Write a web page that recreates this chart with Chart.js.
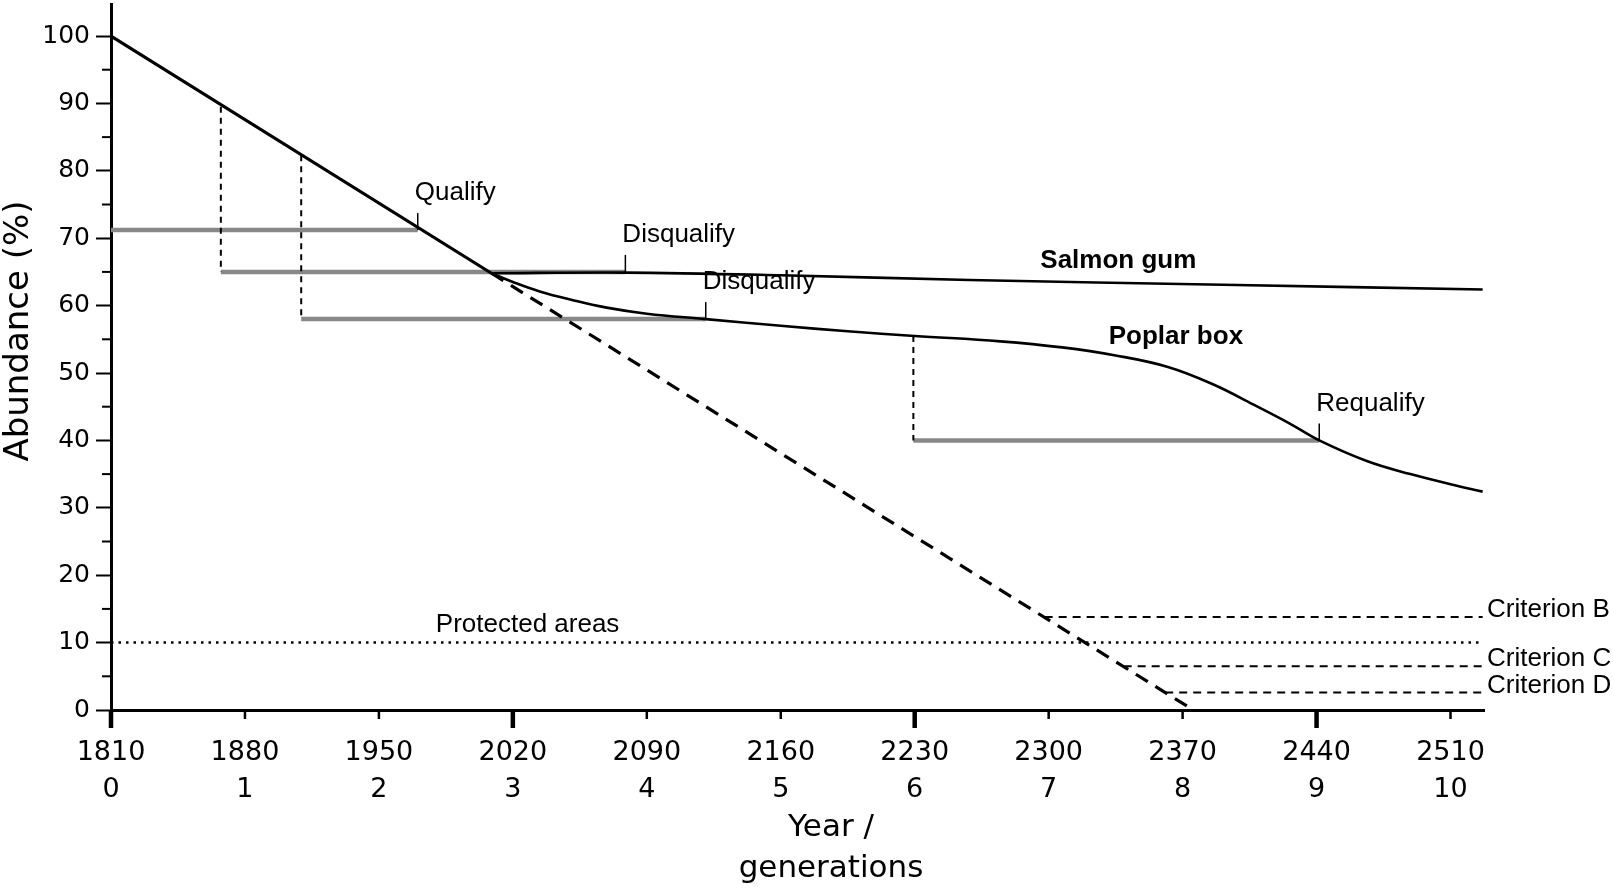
<!DOCTYPE html>
<html><head><meta charset="utf-8">
<script src="https://cdn.jsdelivr.net/npm/chart.js@4.4.0/dist/chart.umd.min.js"></script>
<style>html,body{margin:0;padding:0;background:#fff;}canvas{display:block;}</style>
</head><body>
<canvas id="c" width="1613" height="890"></canvas>
<script>
// ---- axis ticks ----
const generations = [0, 1, 2, 3, 4, 5, 6, 7, 8, 9, 10];
const years = ['1810', '1880', '1950', '2020', '2090', '2160', '2230', '2300', '2370', '2440', '2510'];
const majorGenerations = [0, 3, 6, 9];
const abundanceTicks = [0, 10, 20, 30, 40, 50, 60, 70, 80, 90, 100];
const minorAbundanceTicks = [5, 15, 25, 35, 45, 55, 65, 75, 85, 95];

// ---- series (x in generations, y in abundance %) ----
const declineX = [0, 2.84, 8.08];
const declineY = [100, 64.8, 0];
const salmonX = [2.84, 3.84, 5.0, 6.41, 8.3, 10.24];
const salmonY = [64.8, 64.9, 64.5, 63.8, 63.1, 62.4];
const poplarX = [2.84, 3.0, 3.2, 3.45, 3.7, 4.0, 4.44, 5.0, 5.5, 6.0, 6.64, 7.1, 7.5, 7.89, 8.23, 8.53, 8.8, 9.02, 9.38, 9.7, 10.0, 10.24];
const poplarY = [64.8, 63.5, 62.1, 60.8, 59.7, 58.8, 58.0, 57.0, 56.2, 55.5, 54.7, 53.8, 52.6, 50.9, 48.3, 45.3, 42.5, 40.0, 36.9, 35.0, 33.5, 32.4];

// ---- threshold (grey) lines ----
const thresholdStart = [0, 0.82, 1.42, 5.99];
const thresholdEnd = [2.29, 3.84, 4.44, 9.02];
const thresholdLevel = [71.2, 65.0, 58.0, 40.0];
const thresholdLabels = ['Qualify', 'Disqualify', 'Disqualify', 'Requalify'];

// ---- dashed drops ----
const dropX = [0.82, 1.42, 5.99];
const dropTop = [89.5, 82.3, 55.5];
const dropBottom = [65.0, 58.0, 40.0];

// ---- reference levels ----
const protectedLevel = 10;
const protectedLabel = 'Protected areas';
const criterionLabels = ['Criterion B', 'Criterion C', 'Criterion D'];
const criterionLevel = [13.8, 6.5, 2.6];
const criterionStart = [6.97, 7.56, 7.87];
const seriesEnd = 10.24;

const speciesLabels = ['Salmon gum', 'Poplar box'];
const speciesLabelAt = [[7.52, 66.7], [7.95, 55.4]];
const protectedLabelAt = [3.11, 12.6];

const pts = (xs, ys) => xs.map((x, i) => ({x: x, y: ys[i]}));
const base = {pointRadius: 0, fill: false, borderColor: '#000', tension: 0};

const datasets = [];
datasets.push(Object.assign({}, base, {data: pts(declineX.slice(0, 2), declineY.slice(0, 2)), borderWidth: 3.2}));
datasets.push(Object.assign({}, base, {data: pts(declineX.slice(1), declineY.slice(1)), borderWidth: 3.2, borderDash: [14, 9]}));
datasets.push(Object.assign({}, base, {data: pts(salmonX, salmonY), borderWidth: 2.6, tension: 0.35}));
datasets.push(Object.assign({}, base, {data: pts(poplarX, poplarY), borderWidth: 2.6, tension: 0.4}));
dropX.forEach((x, i) => {
  datasets.push(Object.assign({}, base, {data: [{x: x, y: dropTop[i]}, {x: x, y: dropBottom[i]}], borderWidth: 2, borderDash: [6, 5]}));
});
criterionLevel.forEach((lv, i) => {
  datasets.push(Object.assign({}, base, {data: [{x: criterionStart[i], y: lv}, {x: seriesEnd, y: lv}], borderWidth: 2, borderDash: [8, 6]}));
});
datasets.push(Object.assign({}, base, {data: [{x: 0, y: protectedLevel}, {x: seriesEnd, y: protectedLevel}], borderWidth: 2.5, borderDash: [2.5, 5]}));
thresholdLevel.forEach((lv, i) => {
  datasets.push(Object.assign({}, base, {data: [{x: thresholdStart[i], y: lv}, {x: thresholdEnd[i], y: lv}], borderWidth: 4.5, borderColor: '#888888'}));
});

const annot = {
  id: 'annot',
  afterDraw(chart) {
    const ctx = chart.ctx, xs = chart.scales.x, ys = chart.scales.y, area = chart.chartArea;
    ctx.save();
    ctx.strokeStyle = '#000'; ctx.fillStyle = '#000';
    // x ticks
    generations.forEach(g => {
      const px = xs.getPixelForValue(g);
      const major = majorGenerations.includes(g);
      ctx.lineWidth = major ? 4.5 : 2.5;
      ctx.beginPath(); ctx.moveTo(px, area.bottom); ctx.lineTo(px, area.bottom + (major ? 18 : 9)); ctx.stroke();
    });
    // y minor ticks
    ctx.lineWidth = 2;
    minorAbundanceTicks.forEach(v => {
      const py = ys.getPixelForValue(v);
      ctx.beginPath(); ctx.moveTo(area.left - 9, py); ctx.lineTo(area.left, py); ctx.stroke();
    });
    // threshold end marks and labels
    ctx.font = '26px "Liberation Sans", Arial, sans-serif';
    ctx.textBaseline = 'middle'; ctx.textAlign = 'left';
    thresholdEnd.forEach((g, i) => {
      const px = xs.getPixelForValue(g), py = ys.getPixelForValue(thresholdLevel[i]);
      ctx.lineWidth = 1.5;
      ctx.beginPath(); ctx.moveTo(px, py); ctx.lineTo(px, py - 17); ctx.stroke();
      ctx.fillText(thresholdLabels[i], px - 3, py - 37);
    });
    // protected label
    ctx.textAlign = 'center';
    ctx.fillText(protectedLabel, xs.getPixelForValue(protectedLabelAt[0]), ys.getPixelForValue(protectedLabelAt[1]));
    // criterion labels
    ctx.textAlign = 'left';
    criterionLevel.forEach((lv, i) => {
      ctx.fillText(criterionLabels[i], area.right + 3, ys.getPixelForValue(lv) - 7);
    });
    // species labels
    ctx.font = 'bold 26px "Liberation Sans", Arial, sans-serif';
    ctx.textAlign = 'center';
    speciesLabels.forEach((t, i) => {
      ctx.fillText(t, xs.getPixelForValue(speciesLabelAt[i][0]), ys.getPixelForValue(speciesLabelAt[i][1]));
    });
    // axis titles
    ctx.font = '31px "DejaVu Sans", Verdana, sans-serif';
    ctx.textAlign = 'center'; ctx.textBaseline = 'middle';
    ctx.fillText('Year /', 831, 828);
    ctx.fillText('generations', 831, 869);
    ctx.translate(19, 331); ctx.rotate(-Math.PI / 2);
    ctx.font = '34px "DejaVu Sans", Verdana, sans-serif';
    ctx.fillText('Abundance (%)', 0, 0);
    ctx.restore();
  }
};

new Chart(document.getElementById('c'), {
  type: 'line',
  data: {datasets: datasets},
  plugins: [annot],
  options: {
    responsive: false, animation: false, devicePixelRatio: 1,
    layout: {padding: {top: 4, right: 129, bottom: 0, left: 0}},
    plugins: {legend: {display: false}, tooltip: {enabled: false}},
    scales: {
      x: {
        type: 'linear', min: 0, max: 10.25,
        afterBuildTicks: ax => { ax.ticks = generations.map(v => ({value: v})); },
        afterFit: s => { s.height = 180; s.paddingLeft = 0; s.paddingRight = 0; },
        grid: {display: true, drawOnChartArea: false, drawTicks: false},
        border: {display: true, color: '#000', width: 3},
        ticks: {
          padding: 24, color: '#000', maxRotation: 0, autoSkip: false,
          font: {family: '"DejaVu Sans", Verdana, sans-serif', size: 27, lineHeight: 1.38},
          callback: v => { const i = generations.indexOf(v); return i < 0 ? '' : [years[i], String(generations[i])]; }
        }
      },
      y: {
        type: 'linear', min: 0, max: 104.75,
        afterBuildTicks: ax => { ax.ticks = abundanceTicks.map(v => ({value: v})); },
        afterFit: s => { s.width = 111; s.paddingTop = 0; s.paddingBottom = 0; },
        grid: {display: true, drawOnChartArea: false, drawTicks: true, tickLength: 15, tickWidth: 2, tickColor: '#000'},
        border: {display: true, color: '#000', width: 3},
        ticks: {
          padding: 6, color: '#000',
          font: {family: '"DejaVu Sans", Verdana, sans-serif', size: 25}
        }
      }
    }
  }
});
</script>
</body></html>
